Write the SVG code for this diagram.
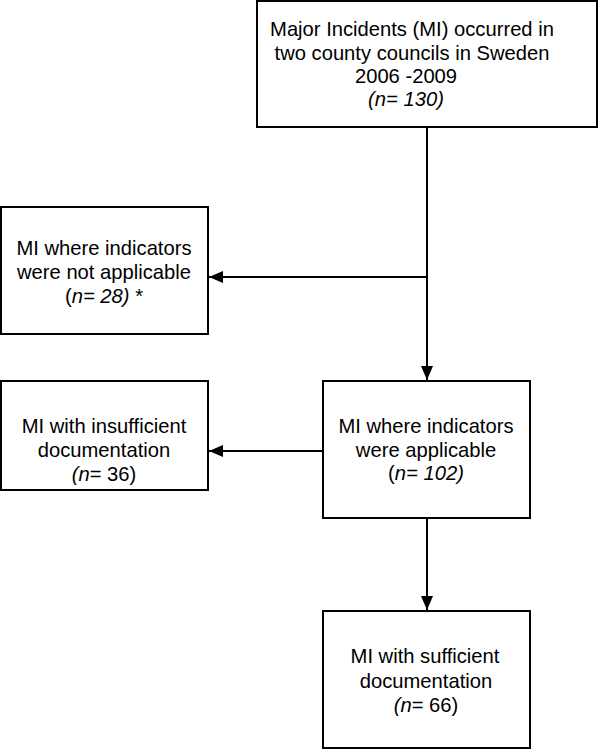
<svg xmlns="http://www.w3.org/2000/svg" width="600" height="750" viewBox="0 0 600 750">
<defs>
<marker id="ah" viewBox="0 0 14 12" refX="14" refY="6" markerWidth="14" markerHeight="12" markerUnits="userSpaceOnUse" orient="auto">
<path d="M0,0 L14,6 L0,12 Z" fill="#000"/>
</marker>
<style>
.box{fill:#fff;stroke:#000;stroke-width:2}
.t{font-family:"Liberation Sans",Arial,sans-serif;font-size:20.2px;fill:#000;text-anchor:middle}
.i{font-style:italic}
.c{fill:none;stroke:#000;stroke-width:2}
</style>
</defs>
<rect width="600" height="750" fill="#fff"/>
<g id="connectors">
<line class="c" x1="427" y1="127" x2="427" y2="380" marker-end="url(#ah)"/>
<line class="c" x1="427" y1="277" x2="209" y2="277" marker-end="url(#ah)"/>
<line class="c" x1="323" y1="451" x2="209" y2="451" marker-end="url(#ah)"/>
<line class="c" x1="427" y1="518" x2="427" y2="610" marker-end="url(#ah)"/>
</g>
<g id="n1">
<rect class="box" x="257" y="1" width="340" height="126"/>
<text class="t" x="412" y="36">Major Incidents (MI) occurred in</text>
<text class="t" x="412" y="59.5">two county councils in Sweden</text>
<text class="t" x="406" y="82.5">2006 -2009</text>
<text class="t i" x="406" y="105.5">(n= 130)</text>
</g>
<g id="n2">
<rect class="box" x="1" y="207" width="207" height="127"/>
<text class="t" x="104" y="255">MI where indicators</text>
<text class="t" x="104" y="279">were not applicable</text>
<text class="t" x="104" y="303">(<tspan class="i">n= 28)</tspan> *</text>
</g>
<g id="n3">
<rect class="box" x="1" y="381" width="207" height="109"/>
<text class="t" x="104" y="433">MI with insufficient</text>
<text class="t" x="104" y="457">documentation</text>
<text class="t" x="104" y="481"><tspan class="i">(n</tspan>= 36)</text>
</g>
<g id="n4">
<rect class="box" x="323" y="381" width="207" height="137"/>
<text class="t" x="426" y="433">MI where indicators</text>
<text class="t" x="426" y="457">were applicable</text>
<text class="t" x="426" y="480">(<tspan class="i">n= 102)</tspan></text>
</g>
<g id="n5">
<rect class="box" x="323" y="611" width="207" height="137"/>
<text class="t" x="425" y="663">MI with sufficient</text>
<text class="t" x="426" y="688">documentation</text>
<text class="t" x="426" y="712"><tspan class="i">(n</tspan>= 66)</text>
</g>
</svg>
